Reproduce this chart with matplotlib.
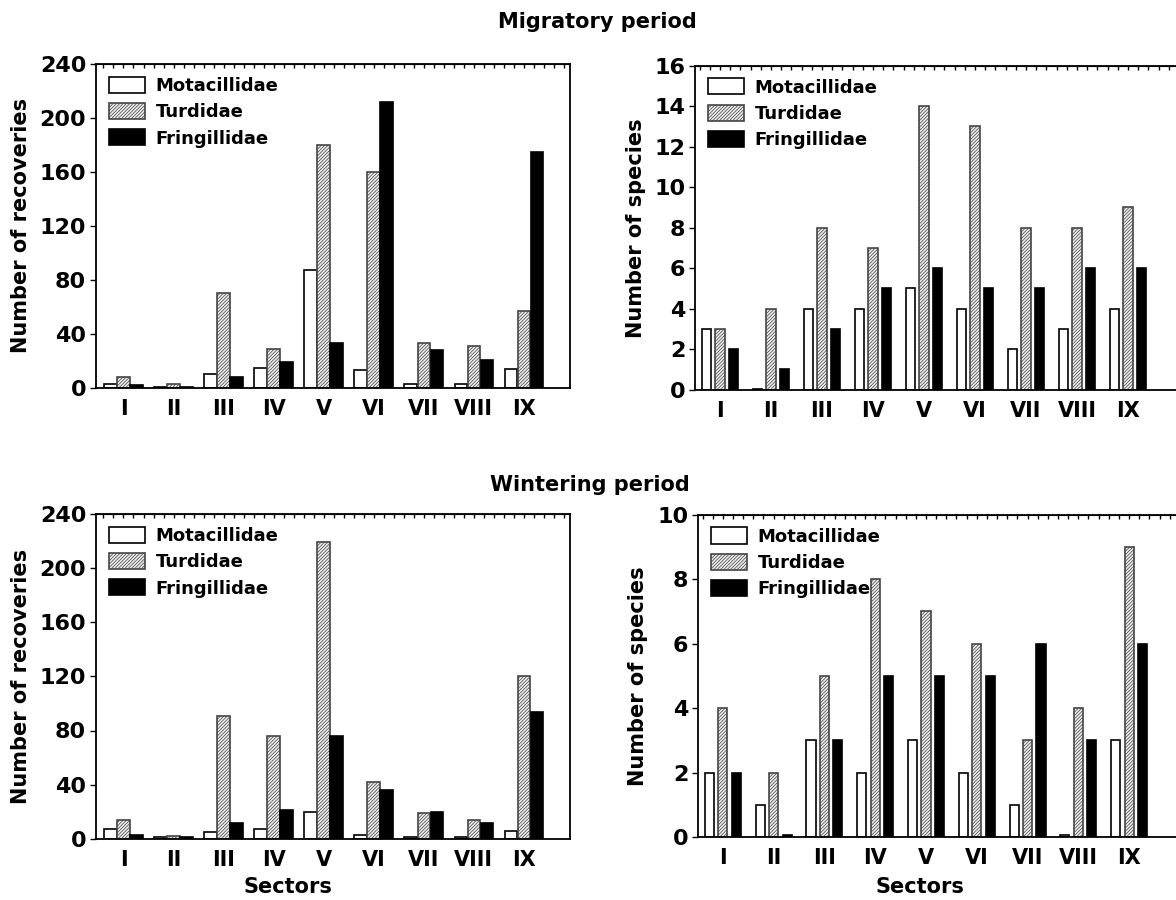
import numpy as np
import matplotlib
matplotlib.use("Agg")
import matplotlib.pyplot as plt
from matplotlib.ticker import MultipleLocator

plt.rcParams["font.family"] = ["DejaVu Sans"]
plt.rcParams["font.weight"] = "bold"
plt.rcParams["hatch.linewidth"] = 0.5

sectors = ["I", "II", "III", "IV", "V", "VI", "VII", "VIII", "IX"]
families = ["Motacillidae", "Turdidae", "Fringillidae"]

# migratory period
mig_rec_mot = [3, 1, 10, 15, 87, 13, 3, 3, 14]
mig_rec_tur = [8, 3, 70, 29, 180, 160, 33, 31, 57]
mig_rec_fri = [2, 1, 8, 19, 33, 212, 28, 21, 175]
mig_sp_mot = [3, 0.05, 4, 4, 5, 4, 2, 3, 4]
mig_sp_tur = [3, 4, 8, 7, 14, 13, 8, 8, 9]
mig_sp_fri = [2, 1, 3, 5, 6, 5, 5, 6, 6]

# wintering period
win_rec_mot = [7, 1.5, 5, 7, 20, 3, 1.5, 1.5, 5.5]
win_rec_tur = [14, 2, 91, 76, 219, 42, 19, 14, 120]
win_rec_fri = [3, 1.5, 12, 21, 76, 36, 20, 12, 94]
win_sp_mot = [2, 1, 3, 2, 3, 2, 1, 0.05, 3]
win_sp_tur = [4, 2, 5, 8, 7, 6, 3, 4, 9]
win_sp_fri = [2, 0.05, 3, 5, 5, 5, 6, 3, 6]

STYLES = [
    dict(facecolor="white", edgecolor="black", linewidth=1.2),
    dict(facecolor="#ececec", edgecolor="#444444", hatch="//////////", linewidth=1.2),
    dict(facecolor="black", edgecolor="black", linewidth=1.2),
]


def panel(ax, series, ymax, ystep, ylabel, wide, xlim, label_x):
    x = np.arange(1, len(sectors) + 1)
    w, off = (0.25, 0.26) if wide else (0.18, 0.265)
    for i, (vals, st, name) in enumerate(zip(series, STYLES, families)):
        ax.bar(x + (i - 1) * off, vals, width=w, label=name, **st)
    ax.set_xlim(*xlim)
    ax.set_ylim(0, ymax)
    ax.set_xticks(x)
    ax.set_xticklabels(sectors, fontsize=15, fontweight="bold")
    ax.set_yticks(np.arange(0, ymax + 0.1, ystep))
    ax.tick_params(axis="x", length=0, pad=8)
    ax.tick_params(axis="y", length=4, width=1, labelsize=16, pad=3)
    for s in ax.spines.values():
        s.set_linewidth(1.3)
    top = ax.secondary_xaxis("top")
    top.xaxis.set_major_locator(MultipleLocator(0.2))
    top.tick_params(direction="in", length=3, width=1, labeltop=False)
    ax.set_ylabel(ylabel, fontsize=15, fontweight="bold")
    ax.yaxis.set_label_coords(label_x, 0.5)
    ax.legend(loc="upper left", frameon=False,
              handlelength=2.0, handleheight=1.0, handletextpad=0.6,
              labelspacing=0.45, borderpad=0.3, borderaxespad=0.4,
              prop=dict(weight="bold", size=13))


fig = plt.figure(figsize=(11.76, 9.0), dpi=100)
ax1 = fig.add_axes([0.0816, 0.569, 0.403, 0.360])
ax2 = fig.add_axes([0.591, 0.567, 0.455, 0.360])
ax3 = fig.add_axes([0.0816, 0.068, 0.403, 0.361])
ax4 = fig.add_axes([0.5935, 0.070, 0.453, 0.358])

panel(ax1, [mig_rec_mot, mig_rec_tur, mig_rec_fri], 240, 40,
      "Number of recoveries", True, (0.45, 9.92), -0.137)
panel(ax2, [mig_sp_mot, mig_sp_tur, mig_sp_fri], 16, 2,
      "Number of species", False, (0.51, 11.0), -0.092)
panel(ax3, [win_rec_mot, win_rec_tur, win_rec_fri], 240, 40,
      "Number of recoveries", True, (0.45, 9.92), -0.137)
panel(ax4, [win_sp_mot, win_sp_tur, win_sp_fri], 10, 2,
      "Number of species", False, (0.51, 11.0), -0.094)

fig.text(0.508, 0.975, "Migratory period", ha="center", va="center",
         fontsize=15, fontweight="bold")
fig.text(0.502, 0.461, "Wintering period", ha="center", va="center",
         fontsize=15, fontweight="bold")
fig.text(0.245, 0.0145, "Sectors", ha="center", va="center",
         fontsize=15, fontweight="bold")
fig.text(0.782, 0.0145, "Sectors", ha="center", va="center",
         fontsize=15, fontweight="bold")

fig.savefig("out.png", dpi=100)
